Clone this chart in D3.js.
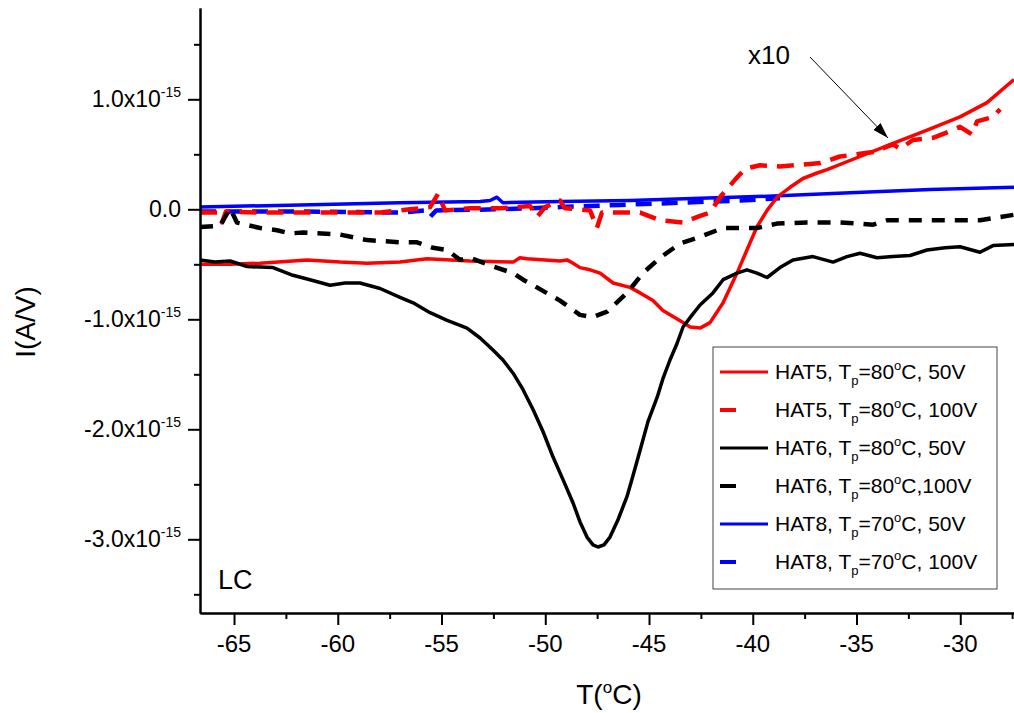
<!DOCTYPE html>
<html>
<head>
<meta charset="utf-8">
<script src="https://cdn.jsdelivr.net/npm/d3@7"></script>
<style>
body { margin: 0; background: #fff; }
svg text { font-family: Arial, "Liberation Sans", sans-serif; fill: #000; }
</style>
</head>
<body>
<svg id="chart" width="1014" height="713"></svg>
<script>
// currents are in units of 1e-15 A/V, temperatures in degC

// HAT5, Tp=80C, 50V
var tHat5a = [-66.64, -65.19, -63.75, -61.48, -59.89, -58.59, -57.00, -55.70, -53.63, -51.55, -51.22, -50.88, -49.29, -48.95,
	-48.66, -48.33, -47.84, -47.36, -46.73, -45.92, -45.43, -44.81, -44.33, -43.36, -43.02, -42.54, -42.06, -41.43,
	-40.76, -40.28, -39.80, -39.31, -38.83, -38.20, -37.58, -36.90, -36.42, -34.83, -33.24, -31.60, -30.01, -28.71, -27.41];
var iHat5a = [-0.50, -0.50, -0.49, -0.46, -0.48, -0.49, -0.48, -0.45, -0.47, -0.48, -0.44, -0.45, -0.47, -0.46,
	-0.49, -0.53, -0.55, -0.58, -0.67, -0.71, -0.76, -0.83, -0.92, -1.03, -1.07, -1.08, -1.03, -0.85,
	-0.58, -0.37, -0.16, -0.01, 0.11, 0.20, 0.28, 0.33, 0.36, 0.48, 0.60, 0.72, 0.84, 0.97, 1.18];

// HAT5, Tp=80C, 100V
var tHat5b = [-66.64, -65.77, -65.58, -65.39, -63.75, -61.82, -59.89, -57.96, -56.52, -55.55, -55.17, -54.83, -53.63, -52.18,
	-50.73, -50.40, -50.01, -49.29, -49.05, -47.84, -47.51, -47.27, -46.40, -45.43, -44.47, -43.36, -42.54, -42.06,
	-41.58, -40.85, -40.37, -39.65, -38.69, -37.39, -36.73, -35.80, -34.20, -33.24, -32.90, -32.28, -31.31, -30.49, -30.01, -29.43,
	-29.19, -28.42, -28.08];
var iHat5b = [-0.03, -0.03, -0.12, -0.02, -0.03, -0.03, -0.03, -0.03, 0.00, 0.02, 0.14, -0.01, 0.01, 0.01,
	0.03, -0.07, 0.02, 0.08, 0.01, -0.01, -0.17, -0.03, -0.03, -0.03, -0.10, -0.12, -0.06, -0.03,
	0.11, 0.27, 0.37, 0.40, 0.39, 0.41, 0.42, 0.48, 0.52, 0.59, 0.55, 0.63, 0.65, 0.71, 0.75, 0.68,
	0.80, 0.84, 0.91];

// HAT6, Tp=80C, 50V
var tHat6a = [-66.64, -65.92, -65.19, -64.37, -63.12, -62.16, -61.34, -60.37, -59.65, -58.93, -57.96, -57.00, -56.37, -55.55,
	-54.73, -53.77, -53.14, -52.52, -52.04, -51.55, -51.07, -50.59, -50.11, -49.63, -49.14, -48.66, -48.33, -47.99,
	-47.70, -47.46, -47.17, -46.88, -46.49, -46.06, -45.77, -45.43, -45.05, -44.61, -44.33, -43.99, -43.65, -43.36,
	-42.92, -42.54, -41.92, -41.43, -40.76, -40.28, -39.80, -39.31, -38.69, -38.06, -37.10, -36.13, -35.46, -34.83, -34.01,
	-33.24, -32.42, -31.60, -30.73, -30.01, -29.05, -28.42, -27.41];
var iHat6a = [-0.46, -0.48, -0.47, -0.52, -0.53, -0.60, -0.64, -0.69, -0.67, -0.67, -0.72, -0.80, -0.85, -0.94,
	-1.01, -1.08, -1.17, -1.28, -1.37, -1.49, -1.64, -1.82, -2.02, -2.25, -2.46, -2.67, -2.84, -2.98,
	-3.05, -3.07, -3.05, -2.98, -2.82, -2.61, -2.42, -2.19, -1.93, -1.71, -1.54, -1.37, -1.22, -1.07,
	-0.96, -0.87, -0.76, -0.64, -0.58, -0.55, -0.58, -0.62, -0.53, -0.46, -0.43, -0.48, -0.43, -0.40, -0.44,
	-0.43, -0.42, -0.37, -0.35, -0.34, -0.39, -0.33, -0.32];

// HAT6, Tp=80C, 100V
var tHat6b = [-66.64, -65.67, -65.19, -64.86, -63.75, -62.93, -62.30, -61.67, -59.89, -58.59, -57.00, -56.18, -55.41, -54.73,
	-54.11, -53.63, -52.52, -51.55, -51.07, -50.59, -49.29, -48.33, -47.70, -47.02, -46.06, -45.29, -44.47, -43.49,
	-42.54, -41.43, -39.80, -38.83, -37.39, -35.80, -34.83, -34.20, -33.53, -32.28, -30.64, -29.05, -27.41];
var iHat6b = [-0.16, -0.15, 0.01, -0.12, -0.17, -0.19, -0.22, -0.21, -0.23, -0.28, -0.30, -0.30, -0.35, -0.37,
	-0.46, -0.44, -0.52, -0.58, -0.64, -0.69, -0.83, -0.96, -0.98, -0.93, -0.76, -0.58, -0.44, -0.31,
	-0.25, -0.17, -0.17, -0.13, -0.12, -0.12, -0.13, -0.14, -0.10, -0.10, -0.10, -0.10, -0.05];

// HAT8, Tp=70C, 50V
var tHat8a = [-66.64, -61.82, -57.00, -53.14, -52.66, -52.33, -52.04, -49.29, -45.92, -42.54, -39.02, -35.31, -31.45, -27.41];
var iHat8a = [0.02, 0.04, 0.06, 0.07, 0.08, 0.11, 0.06, 0.07, 0.08, 0.10, 0.12, 0.15, 0.18, 0.20];

// HAT8, Tp=70C, 100V
var tHat8b = [-66.64, -61.82, -57.00, -55.80, -55.55, -55.26, -52.18, -49.29, -46.40, -43.49, -40.61, -38.69];
var iHat8b = [-0.02, -0.02, -0.03, -0.01, -0.07, -0.01, 0.00, 0.02, 0.04, 0.06, 0.08, 0.10];

var xMajor = [-65, -60, -55, -50, -45, -40, -35, -30];
var xMinor = [-62.5, -57.5, -52.5, -47.5, -42.5, -37.5, -32.5, -27.5];
var yMajor = [-3, -2, -1, 0, 1];
var yMinor = [-3.5, -2.5, -1.5, -0.5, 0.5, 1.5];

// legend text pieces: name + T, subscript p, =Tp, superscript o, rest
var legendNames = ["HAT5, T", "HAT5, T", "HAT6, T", "HAT6, T", "HAT8, T", "HAT8, T"];
var legendTp = ["=80", "=80", "=80", "=80", "=70", "=70"];
var legendTail = ["C, 50V", "C, 100V", "C, 50V", "C,100V", "C, 50V", "C, 100V"];

var series = [
	{ t: tHat8b, v: iHat8b, color: "#0000ff", dash: "16,10", width: 4.5, leg: 5 },
	{ t: tHat8a, v: iHat8a, color: "#0000ff", dash: null, width: 3.5, leg: 4 },
	{ t: tHat5a, v: iHat5a, color: "#ff0000", dash: null, width: 3.5, leg: 0 },
	{ t: tHat5b, v: iHat5b, color: "#ff0000", dash: "17,10", width: 4.5, leg: 1 },
	{ t: tHat6b, v: iHat6b, color: "#000000", dash: "13,10", width: 4.5, leg: 3 },
	{ t: tHat6a, v: iHat6a, color: "#000000", dash: null, width: 3.5, leg: 2 }
];

var plotLeft = 200, plotRight = 1014, plotTop = 8, plotBottom = 613;
var svg = d3.select("#chart");

var x = d3.scaleLinear().domain([-66.64, -27.41]).range([plotLeft, plotRight]);
var y = d3.scaleLinear().domain([-3.67, 1.83]).range([plotBottom, plotTop]);

var defs = svg.append("defs");
defs.append("clipPath").attr("id", "plotclip")
	.append("rect")
	.attr("x", plotLeft).attr("y", plotTop)
	.attr("width", plotRight - plotLeft).attr("height", plotBottom - plotTop);

var line = d3.line()
	.x(function(d) { return x(d[0]); })
	.y(function(d) { return y(d[1]); });

var g = svg.append("g").attr("clip-path", "url(#plotclip)");
series.forEach(function(s) {
	var pts = s.t.map(function(t, i) { return [t, s.v[i]]; });
	g.append("path")
		.datum(pts)
		.attr("fill", "none")
		.attr("stroke", s.color)
		.attr("stroke-width", s.width)
		.attr("stroke-linejoin", "round")
		.attr("stroke-dasharray", s.dash)
		.attr("d", line);
});

// axes
function styleAxis(sel) {
	sel.select(".domain").attr("stroke", "#000").attr("stroke-width", 2);
	sel.selectAll(".tick line").attr("stroke", "#000").attr("stroke-width", 2);
	sel.selectAll(".tick text").remove();
}

svg.append("g").attr("transform", "translate(" + plotLeft + ",0)")
	.call(d3.axisLeft(y).tickValues(yMajor).tickSize(12).tickSizeOuter(0))
	.call(styleAxis);
svg.append("g").attr("transform", "translate(" + plotLeft + ",0)")
	.call(d3.axisLeft(y).tickValues(yMinor).tickSize(6).tickSizeOuter(0))
	.call(styleAxis);
svg.append("g").attr("transform", "translate(0," + plotBottom + ")")
	.call(d3.axisBottom(x).tickValues(xMajor).tickSize(12).tickSizeOuter(0))
	.call(styleAxis);
svg.append("g").attr("transform", "translate(0," + plotBottom + ")")
	.call(d3.axisBottom(x).tickValues(xMinor).tickSize(6).tickSizeOuter(0))
	.call(styleAxis);

// y tick labels with x10^-15
yMajor.forEach(function(v) {
	var t = svg.append("text")
		.attr("x", 181)
		.attr("y", y(v) + 8)
		.attr("text-anchor", "end")
		.attr("font-size", 23);
	if (v === 0) {
		t.text("0.0");
	} else {
		t.append("tspan").text(v.toFixed(1) + "x10");
		t.append("tspan").attr("font-size", 14).attr("dy", -10).text("-15");
	}
});

xMajor.forEach(function(v) {
	svg.append("text")
		.attr("x", x(v))
		.attr("y", 652)
		.attr("text-anchor", "middle")
		.attr("font-size", 24)
		.text(v);
});

// axis titles
var xt = svg.append("text")
	.attr("x", 609)
	.attr("y", 704)
	.attr("text-anchor", "middle")
	.attr("font-size", 28);
xt.append("tspan").text("T(");
xt.append("tspan").attr("font-size", 17).attr("dy", -11).text("o");
xt.append("tspan").attr("dy", 11).text("C)");

svg.append("text")
	.attr("transform", "translate(35,322) rotate(-90)")
	.attr("text-anchor", "middle")
	.attr("font-size", 28)
	.text("I(A/V)");

svg.append("text")
	.attr("x", 218)
	.attr("y", 589)
	.attr("font-size", 27)
	.text("LC");

// x10 annotation
defs.append("marker")
	.attr("id", "arrow")
	.attr("viewBox", "0 0 16 10")
	.attr("refX", 16).attr("refY", 5)
	.attr("markerWidth", 16).attr("markerHeight", 10)
	.attr("markerUnits", "userSpaceOnUse")
	.attr("orient", "auto")
	.append("path").attr("d", "M0,0 L16,5 L0,10 Z").attr("fill", "#000");

svg.append("text")
	.attr("x", 748)
	.attr("y", 64)
	.attr("font-size", 26)
	.text("x10");

svg.append("line")
	.attr("x1", 810).attr("y1", 57)
	.attr("x2", 888).attr("y2", 138)
	.attr("stroke", "#000")
	.attr("stroke-width", 1)
	.attr("marker-end", "url(#arrow)");

// legend
var legX = 713, legY = 347, legW = 284, legH = 242, rowH = 38;
var leg = svg.append("g");
leg.append("rect")
	.attr("x", legX).attr("y", legY)
	.attr("width", legW).attr("height", legH)
	.attr("fill", "#fff")
	.attr("stroke", "#444")
	.attr("stroke-width", 1);

series.forEach(function(s) {
	var cy = legY + 25 + s.leg * rowH;
	leg.append("line")
		.attr("x1", 720).attr("x2", s.dash ? 736 : 768)
		.attr("y1", cy).attr("y2", cy)
		.attr("stroke", s.color)
		.attr("stroke-width", s.dash ? 4 : 3);
	var t = leg.append("text")
		.attr("x", 775)
		.attr("y", cy + 7)
		.attr("font-size", 21);
	t.append("tspan").text(legendNames[s.leg]);
	t.append("tspan").attr("font-size", 13).attr("dy", 6).text("p");
	t.append("tspan").attr("dy", -6).text(legendTp[s.leg]);
	t.append("tspan").attr("font-size", 13).attr("dy", -9).text("o");
	t.append("tspan").attr("dy", 9).text(legendTail[s.leg]);
});
</script>
</body>
</html>
